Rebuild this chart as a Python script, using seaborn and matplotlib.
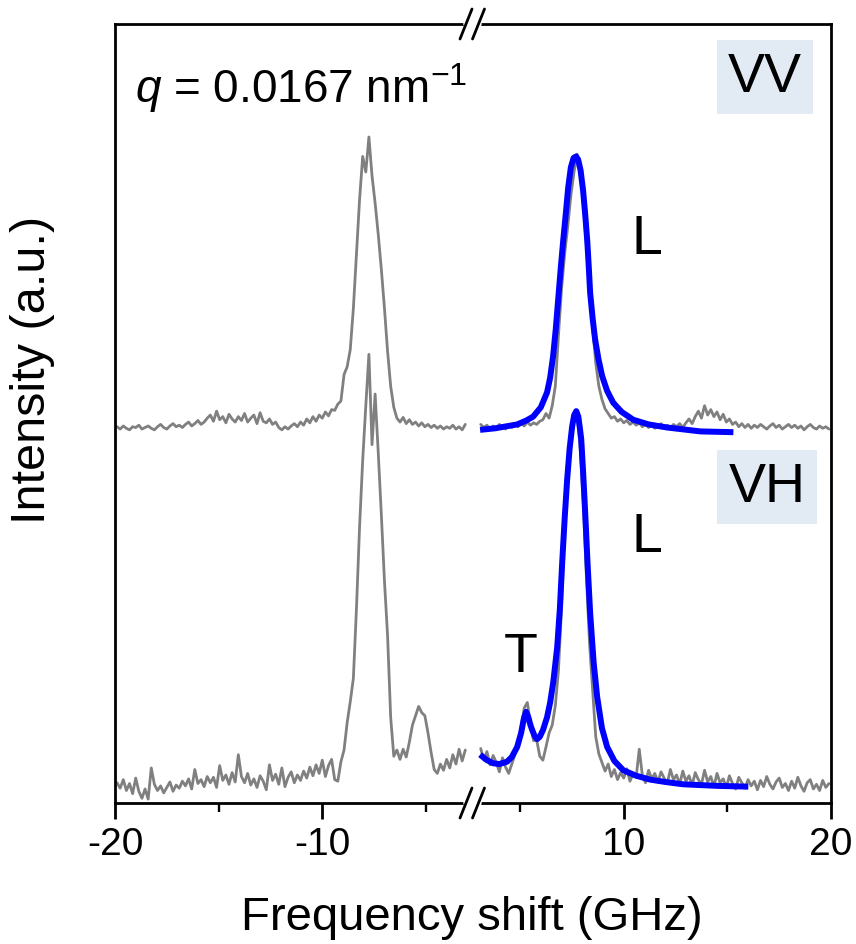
import numpy as np
import matplotlib
matplotlib.use("Agg")
import matplotlib.pyplot as plt
from matplotlib.lines import Line2D
import seaborn as sns

# ---------------- data ----------------
# gray measured spectra, sampled every 0.15 GHz
step = 0.15
left_start = -19.9
right_start = 3.1

vv_left = [
    48.3, 48.0, 48.4, 48.1, 47.9, 48.3, 48.2, 48.5, 48.0, 48.2,   # -19.9
    48.4, 48.1, 47.9, 48.3, 48.6, 48.2, 48.0, 48.4, 48.7, 48.3,   # -18.4
    48.5, 48.2, 48.6, 48.9, 48.4, 48.7, 49.1, 48.6, 48.9, 49.4,   # -16.9
    49.8, 49.0, 50.3, 49.2, 49.6, 48.8, 49.9, 49.3, 48.9, 49.6,   # -15.4
    49.1, 50.0, 48.9, 49.4, 49.8, 48.7, 50.1, 49.0, 48.8, 49.3,   # -13.9
    48.6, 48.9, 48.2, 47.9, 48.3, 48.0, 48.4, 48.7, 48.3, 48.9,   # -12.4
    48.5, 49.3, 48.8, 49.6, 49.0, 49.8, 49.4, 50.2, 49.7, 50.5,   # -10.9
    50.4, 51.2, 51.6, 55.0, 56.0, 58.2, 63.5, 70.5, 77.5, 83.0,   # -9.4
    81.0, 85.5, 80.5, 77.0, 73.0, 68.5, 63.5, 58.0, 53.5, 50.8,   # -7.9
    49.4, 48.9, 49.5, 48.7, 49.2, 48.6, 48.9, 48.4, 48.8, 48.3,   # -6.4
    48.6, 48.2, 48.5, 48.1, 48.4, 48.0, 48.3, 48.1, 48.5, 48.0,   # -4.9
    48.3, 47.9, 48.6,                                             # -3.4
]

vh_left = [
    2.6, 1.9, 3.0, 1.6, 2.5, 1.2, 3.2, 1.5, 0.6, 1.8,            # -19.9
    0.5, 4.5, 2.4, 1.6, 2.2, 1.3, 2.0, 2.7, 1.5, 2.3,            # -18.4
    1.9, 2.8, 2.2, 3.1, 1.8, 4.3, 2.5, 3.0, 2.1, 3.4,            # -16.9
    2.6, 3.3, 2.0, 4.8, 2.9, 3.6, 2.4, 3.9, 2.7, 6.2,            # -15.4
    3.4, 2.6, 3.8, 2.3, 3.1, 2.0, 3.5, 2.8, 1.7, 4.9,            # -13.9
    2.9, 3.7, 2.4, 4.5, 2.1, 3.3, 4.0, 2.6, 3.6, 2.9,            # -12.4
    4.1, 3.2, 4.6, 3.5, 4.9, 3.8, 5.5, 3.4, 4.8, 5.6,            # -10.9
    3.0, 2.8, 5.3, 6.8, 10.3, 13.0, 16.0, 25.0, 35.5, 44.0,      # -9.4
    51.0, 57.6, 46.0, 52.5, 45.0, 37.0, 28.5, 21.5, 11.0, 6.0,   # -7.9
    6.8, 5.6, 6.9, 5.9, 7.8, 10.0, 11.2, 12.4, 11.6, 11.2,       # -6.4
    9.0, 6.5, 4.3, 3.8, 5.0, 4.2, 5.6, 4.5, 6.2, 5.0,            # -4.9
    6.9, 5.4, 6.8,                                               # -3.4
]

vv_right = [
    48.6, 48.2, 48.5, 48.0, 48.4, 48.1, 48.6, 48.3, 48.0, 48.5,  # 3.1
    48.2, 48.6, 48.3, 48.7, 48.4, 48.9, 48.5, 48.8, 48.6, 49.0,  # 4.6
    49.2, 50.0, 49.4, 51.0, 53.5, 60.0, 66.0, 70.5, 74.0, 78.0,  # 6.1
    81.0, 83.3, 81.5, 77.0, 71.5, 66.5, 61.0, 56.5, 53.5, 51.8,  # 7.6
    50.6, 50.0, 49.4, 49.6, 49.0, 49.3, 48.8, 49.1, 48.6, 48.9,  # 9.1
    48.5, 48.8, 48.3, 48.6, 48.2, 48.5, 48.1, 48.4, 48.7, 48.2,  # 10.6
    48.5, 48.1, 48.6, 48.3, 48.7, 48.2, 48.8, 49.3, 48.7, 49.6,  # 12.1
    50.3, 49.4, 51.0, 49.8, 50.5, 49.6, 50.2, 49.2, 49.9, 48.9,  # 13.6
    49.3, 48.6, 48.9, 48.3, 48.7, 48.2, 48.6, 48.1, 48.5, 48.2,  # 15.1
    48.6, 48.3, 48.0, 48.4, 48.7, 48.2, 48.5, 48.0, 48.3, 48.6,  # 16.6
    48.2, 48.5, 48.1, 48.4, 47.9, 48.3, 48.6, 48.2, 48.0, 48.4,  # 18.1
    48.1, 48.3, 48.0,                                            # 19.6
]

vh_right = [
    7.0, 5.5, 6.6, 4.9, 6.1, 5.2, 4.0, 5.8, 4.6, 3.8,            # 3.1
    5.0, 6.2, 7.6, 9.8, 12.2, 12.9, 10.2, 8.0, 8.1, 6.0,         # 4.6
    5.5, 7.2, 9.0, 10.0, 12.5, 17.0, 25.0, 36.0, 42.0, 46.5,     # 6.1
    49.5, 50.1, 45.5, 38.5, 29.0, 20.5, 14.5, 8.5, 6.3, 5.2,     # 7.6
    4.1, 5.0, 3.4, 4.3, 3.0, 3.9, 3.2, 4.4, 2.8, 3.7,            # 9.1
    3.3, 6.9, 3.5, 2.6, 4.2, 3.1, 3.8, 2.7, 4.0, 3.2,            # 10.6
    2.5, 4.3, 3.0, 3.6, 2.4, 4.1, 2.8, 3.5, 2.3, 3.9,            # 12.1
    3.0, 2.4, 4.2, 2.7, 3.4, 2.1, 3.8, 2.6, 3.1, 2.0,            # 13.6
    3.5, 2.5, 1.8, 3.3, 2.6, 1.9, 3.0, 2.2, 2.8, 1.7,            # 15.1
    2.9, 2.1, 3.4, 2.4, 1.8, 2.7, 3.2, 2.0, 2.5, 1.6,            # 16.6
    2.8, 1.9, 3.3, 2.2, 1.5, 2.6, 3.0, 1.8, 2.4, 1.6,            # 18.1
    2.9, 2.0, 2.5,                                               # 19.6
]

# blue fitted curves (x, y pairs)
fit_vv_x = [3.07, 3.8, 4.86, 5.3, 5.63, 6.0, 6.30, 6.45, 6.59, 6.72, 6.84,
            6.96, 7.08, 7.2, 7.32, 7.45, 7.58, 7.7, 7.8, 7.92, 8.04, 8.14,
            8.24, 8.31, 8.38, 8.5, 8.62, 8.78, 8.96, 9.2, 9.49, 9.9, 10.46,
            11.2, 12.10, 13.70, 15.29]
fit_vv_y = [47.9, 48.1, 48.6, 49.1, 49.6, 50.8, 52.7, 54.6, 57.3, 60.8, 64.7,
            68.6, 72.2, 75.5, 79.0, 81.6, 82.8, 83.0, 82.6, 81.2, 78.6, 75.6,
            72.2, 69.0, 65.5, 62.2, 59.5, 57.0, 54.8, 52.9, 51.4, 50.2, 49.2,
            48.6, 48.2, 47.7, 47.6]

fit_vh_x = [3.07, 3.4, 3.7, 4.0, 4.37, 4.6, 4.86, 5.05, 5.18, 5.29, 5.4, 5.5,
            5.58, 5.7, 5.82, 5.95, 6.11, 6.3, 6.45, 6.6, 6.79, 6.92, 7.03,
            7.15, 7.27, 7.39, 7.51, 7.61, 7.71, 7.81, 7.88, 7.95, 8.04, 8.14,
            8.26, 8.38, 8.55, 8.72, 8.95, 9.20, 9.55, 9.98, 10.6, 11.28, 12.0,
            12.87, 14.52, 16.01]
fit_vh_y = [6.2, 5.5, 5.1, 5.0, 5.3, 5.9, 7.2, 9.0, 10.8, 11.7, 11.0, 10.0,
            9.4, 8.6, 8.2, 8.5, 9.4, 11.0, 12.9, 15.5, 20.0, 25.0, 30.8,
            36.5, 41.5, 45.5, 48.3, 49.8, 50.3, 49.6, 48.2, 46.7, 42.5, 37.3,
            30.5, 24.4, 18.0, 13.6, 9.6, 7.2, 5.4, 4.2, 3.5, 3.0, 2.7,
            2.4, 2.2, 2.1]

left_major = [-20, -10]
left_minor = [-15, -5]
right_major = [10, 20]
right_minor = [5, 15]

# ---------------- style ----------------
sns.set_theme(style="white")
plt.rcParams["font.family"] = ["Liberation Sans", "DejaVu Sans"]
plt.rcParams["axes.unicode_minus"] = False
plt.rcParams["mathtext.fontset"] = "custom"
plt.rcParams["mathtext.rm"] = "Liberation Sans"
plt.rcParams["mathtext.it"] = "Liberation Sans:italic"
plt.rcParams["mathtext.bf"] = "Liberation Sans:bold"
plt.rcParams["text.color"] = "black"
plt.rcParams["axes.labelcolor"] = "black"
plt.rcParams["xtick.color"] = "black"
plt.rcParams["xtick.labelcolor"] = "black"

W, H = 856, 945
fig = plt.figure(figsize=(W / 100, H / 100), dpi=100)

x_l, x_b, x_r, y_t, y_b = 115, 472, 831, 25, 804
ax1 = fig.add_axes([x_l / W, 1 - y_b / H, (x_b - x_l) / W, (y_b - y_t) / H])
ax2 = fig.add_axes([x_b / W, 1 - y_b / H, (x_r - x_b) / W, (y_b - y_t) / H])

gray = "#808080"
blue = "#0000FF"

xl = left_start + step * np.arange(len(vv_left))
xr = right_start + step * np.arange(len(vv_right))

gkw = dict(color=gray, linewidth=2.0, estimator=None, sort=False)
sns.lineplot(x=xl, y=vv_left, ax=ax1, **gkw)
sns.lineplot(x=xl, y=vh_left, ax=ax1, **gkw)
sns.lineplot(x=xr, y=vv_right, ax=ax2, **gkw)
sns.lineplot(x=xr, y=vh_right, ax=ax2, **gkw)
bkw = dict(color=blue, linewidth=4.3, estimator=None, sort=False, solid_capstyle="butt")
sns.lineplot(x=fit_vv_x, y=fit_vv_y, ax=ax2, **bkw)
sns.lineplot(x=fit_vh_x, y=fit_vh_y, ax=ax2, **bkw)

px_per = (x_r - x_b) / (20 - 2.68)
ax1.set_xlim(-20, -20 + (x_b - x_l) / px_per)
ax2.set_xlim(20 - (x_r - x_b) / px_per, 20)
for ax in (ax1, ax2):
    ax.set_ylim(0, 100)
    ax.set_yticks([])
    ax.set_ylabel("")
    ax.set_xlabel("")
    for s in ax.spines.values():
        s.set_linewidth(2.0)
        s.set_color("black")
    ax.tick_params(axis="x", which="major", direction="out", length=11.5, width=2.0,
                   labelsize=28, pad=5, colors="black", bottom=True, top=False)
    ax.tick_params(axis="x", which="minor", direction="out", length=6.5, width=1.7,
                   bottom=True, top=False)
    ax.patch.set_alpha(0)

ax1.spines["right"].set_visible(False)
ax2.spines["left"].set_visible(False)
ax1.set_xticks(left_major)
ax1.set_xticks(left_minor, minor=True)
ax2.set_xticks(right_major)
ax2.set_xticks(right_minor, minor=True)
ax1.set_xticklabels([str(v) for v in left_major])
ax2.set_xticklabels([str(v) for v in right_major])

# ---------------- break marks ----------------
def fx(px):
    return px / W


def fy(py):
    return 1 - py / H


for ysp in (y_t, y_b):
    fig.add_artist(Line2D([fx(466), fx(479)], [fy(ysp), fy(ysp)], color="white",
                          linewidth=4, transform=fig.transFigure, zorder=5))
    for cx in (466, 478.5):
        fig.add_artist(Line2D([fx(cx - 6), fx(cx + 6)], [fy(ysp + 15), fy(ysp - 15)],
                              color="black", linewidth=2.0, transform=fig.transFigure,
                              zorder=6))

# ---------------- texts ----------------
fig.text(fx(135), fy(88), r"$q$ = 0.0167 nm$^{\mathregular{-1}}$", fontsize=33,
         ha="left", va="center", color="black")
box = dict(boxstyle="square,pad=0.2", fc="#E2EAF3", ec="none")
fig.text(fx(765), fy(78), "VV", fontsize=40, ha="center", va="center", bbox=box)
fig.text(fx(767), fy(488), "VH", fontsize=40, ha="center", va="center", bbox=box)
fig.text(fx(647), fy(240), "L", fontsize=40, ha="center", va="center")
fig.text(fx(647), fy(538), "L", fontsize=40, ha="center", va="center")
fig.text(fx(521), fy(658), "T", fontsize=40, ha="center", va="center")

fig.text(fx(472), fy(918), "Frequency shift (GHz)", fontsize=34, ha="center", va="center")
fig.text(fx(33), fy(370), "Intensity (a.u.)", fontsize=35, ha="center", va="center",
         rotation=90)

fig.savefig("out.png", dpi=100)
